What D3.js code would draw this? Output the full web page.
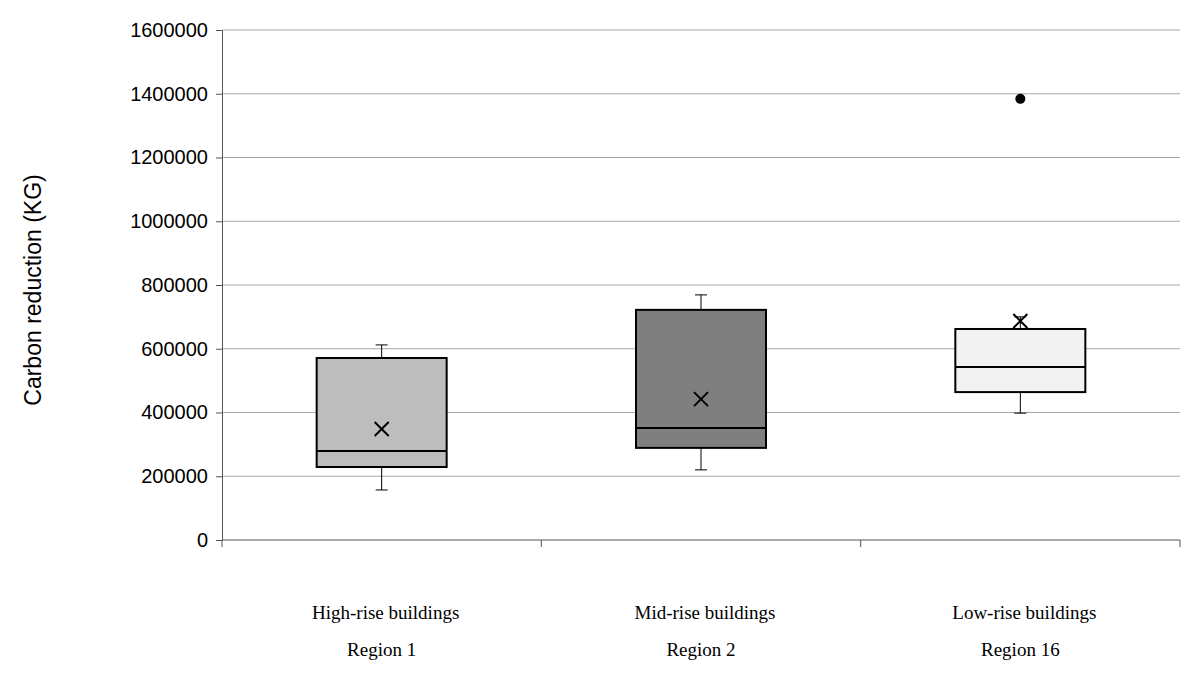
<!DOCTYPE html>
<html><head><meta charset="utf-8">
<script src="https://cdn.jsdelivr.net/npm/d3@7"></script>
<style>body{margin:0;background:#fff}</style>
</head><body>
<script>
// data
const categories = ["High-rise buildings", "Mid-rise buildings", "Low-rise buildings"];
const regions = ["Region 1", "Region 2", "Region 16"];
const whiskerLow = [157000, 220000, 398000];
const q1 = [229000, 289000, 464000];
const median = [279000, 351000, 543000];
const q3 = [571000, 722000, 662000];
const whiskerHigh = [612000, 769000, 700000];
const means = [348000, 442000, 687000];
const outliers = [[], [], [1384000]];
const fills = ["#bdbdbd", "#7f7f7f", "#f2f2f2"];
const yTicks = d3.range(0, 1600001, 200000);

const W = 1200, H = 683;
const mLeft = 222, mRight = 1180, mTop = 30, mBottom = 540;

const svg = d3.select("body").append("svg").attr("width", W).attr("height", H);

const x = d3.scaleBand().domain(categories).range([mLeft, mRight]);
const y = d3.scaleLinear().domain([0, 1600000]).range([mBottom, mTop]);

// gridlines
svg.append("g").selectAll("line").data(yTicks.slice(1)).join("line")
  .attr("x1", mLeft).attr("x2", mRight)
  .attr("y1", d => y(d)).attr("y2", d => y(d))
  .attr("stroke", "#a6a6a6").attr("stroke-width", 1);

// y axis
const ya = svg.append("g").attr("transform", `translate(${mLeft},0)`)
  .call(d3.axisLeft(y).tickValues(yTicks).tickFormat(d3.format("d")).tickSize(6).tickPadding(8));
ya.selectAll("text").attr("font-family", "Liberation Sans, Arial, sans-serif").attr("font-size", 20).attr("fill", "#000");
ya.selectAll("line,path").attr("stroke", "#555");

// x axis baseline with ticks at band edges
const xa = svg.append("g");
xa.append("line").attr("x1", mLeft).attr("x2", mRight).attr("y1", mBottom).attr("y2", mBottom).attr("stroke", "#555");
xa.selectAll("line.t").data(categories.map(c => x(c)).concat([mRight])).join("line").attr("class", "t")
  .attr("x1", d => d).attr("x2", d => d).attr("y1", mBottom).attr("y2", mBottom + 7).attr("stroke", "#555");

// category labels
const lab = svg.append("g").attr("font-family", "Liberation Serif, Times New Roman, serif").attr("font-size", 19).attr("text-anchor", "middle");
categories.forEach((c, i) => {
  const cx = x(c) + x.bandwidth() / 2;
  lab.append("text").attr("x", cx + 4).attr("y", 619).text(c);
  lab.append("text").attr("x", cx).attr("y", 656).text(regions[i]);
});

// y label
svg.append("text").attr("transform", `translate(41,${(mTop + mBottom) / 2 + 5}) rotate(-90)`)
  .attr("text-anchor", "middle").attr("font-family", "Liberation Sans, Arial, sans-serif")
  .attr("font-size", 23).text("Carbon reduction (KG)");

// boxes
const bw = 130, cap = 12;
categories.forEach((c, i) => {
  const cx = x(c) + x.bandwidth() / 2;
  const g = svg.append("g").attr("stroke", "#000");
  g.append("line").attr("x1", cx).attr("x2", cx).attr("y1", y(whiskerLow[i])).attr("y2", y(q1[i])).attr("stroke-width", 1);
  g.append("line").attr("x1", cx).attr("x2", cx).attr("y1", y(whiskerHigh[i])).attr("y2", y(q3[i])).attr("stroke-width", 1);
  [whiskerLow[i], whiskerHigh[i]].forEach(v => g.append("line")
    .attr("x1", cx - cap / 2).attr("x2", cx + cap / 2).attr("y1", y(v)).attr("y2", y(v)));
  g.append("rect").attr("x", cx - bw / 2).attr("width", bw)
    .attr("y", y(q3[i])).attr("height", y(q1[i]) - y(q3[i]))
    .attr("fill", fills[i]).attr("stroke-width", 2);
  g.append("line").attr("x1", cx - bw / 2).attr("x2", cx + bw / 2)
    .attr("y1", y(median[i])).attr("y2", y(median[i])).attr("stroke-width", 2);
  const my = y(means[i]), s = 7;
  g.append("path").attr("d", `M${cx - s},${my - s}L${cx + s},${my + s}M${cx - s},${my + s}L${cx + s},${my - s}`)
    .attr("stroke-width", 2);
  outliers[i].forEach(v => svg.append("circle").attr("cx", cx).attr("cy", y(v)).attr("r", 5).attr("fill", "#000"));
});
</script>
</body></html>
